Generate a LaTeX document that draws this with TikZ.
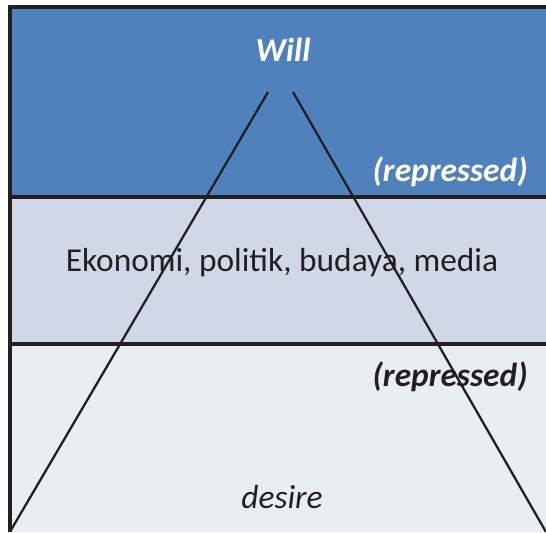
\documentclass[tikz,border=0pt]{standalone}
\usepackage{fontspec}
\setmainfont{Carlito}
\usepackage{xcolor}
\usepackage{tikz}
\usetikzlibrary{positioning}
\definecolor{willblue}{HTML}{4F81BD}
\definecolor{midgrey}{HTML}{D0D8E8}
\definecolor{lowgrey}{HTML}{E9EDF4}
\definecolor{inkdark}{HTML}{231F20}

\begin{document}
\begin{tikzpicture}[
    every node/.style={
        inner sep=0pt,
        font=\fontsize{19}{21}\selectfont,
        text=inkdark},
    border/.style={draw=inkdark, line width=2pt},
    ray/.style={draw=inkdark, line width=1.3pt}]
    \useasboundingbox (0,0) rectangle (10.92,10.64);

    % the three layers
    \fill[willblue] (0.2,6.7) rectangle (10.92,10.5);
    \fill[midgrey] (0.2,3.76) rectangle (10.92,6.7);
    \fill[lowgrey] (0.2,0) rectangle (10.92,3.76);
    \draw[border] (0.2,0) -- (0.2,10.5) -- (10.92,10.5);
    \draw[border] (0.2,6.7) -- (10.92,6.7);
    \draw[border] (0.2,3.76) -- (10.92,3.76);

    \node[text=white, font=\fontsize{19}{21}\selectfont\bfseries\itshape] (will) at (5.66,9.64) {Will};
    \node[text=white, font=\fontsize{19}{21}\selectfont\bfseries\itshape, anchor=east] (repup) at (10.56,7.2) {(repressed)};
    \node (society) at (5.64,5.38) {Ekonomi, politik, budaya, media};
    \node[font=\fontsize{19}{21}\selectfont\bfseries\itshape, anchor=east] (replow) at (10.56,3.1) {(repressed)};
    \node[font=\fontsize{19}{21}\selectfont\itshape] (desire) at (5.64,0.7) {desire};

    % the two rays
    \coordinate (apexl) at (5.36,8.8);
    \coordinate (apexr) at (5.86,8.8);
    \coordinate (footl) at (0.22,0.04);
    \coordinate (footr) at (10.92,0);
    \draw[ray] (apexl) -- (footl);
    \draw[ray] (apexr) -- (footr);
\end{tikzpicture}
\end{document}
